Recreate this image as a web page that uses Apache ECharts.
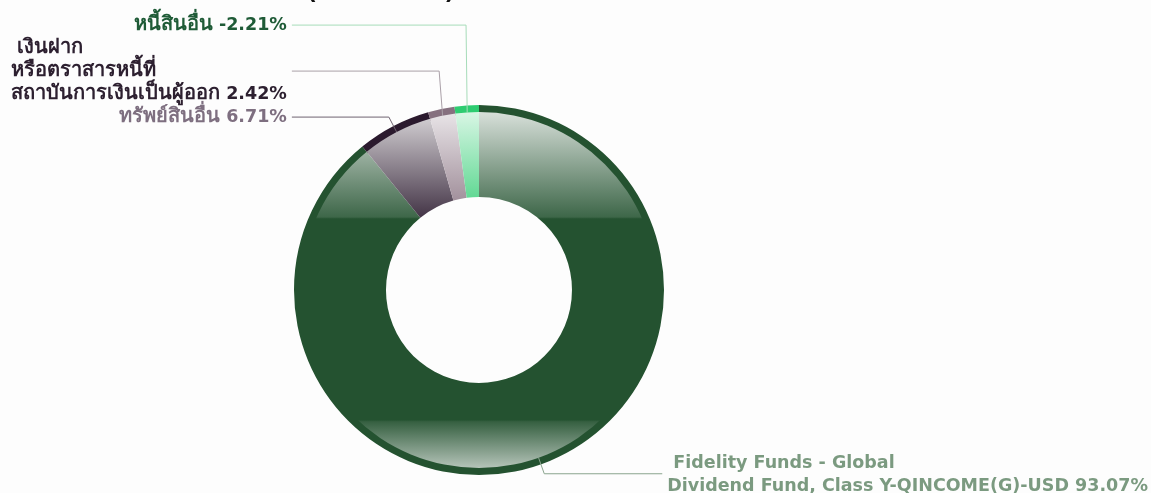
<!DOCTYPE html>
<html lang="th">
<head>
<meta charset="UTF-8" />
<title>สัดส่วนการลงทุน</title>
<script src="https://cdn.jsdelivr.net/npm/echarts@6/dist/echarts.min.js"></script>
<style type="text/css">
html, body { margin:0; padding:0; background:#fdfdfd; }
#main { width:1151px; height:493px; }
</style>
</head>
<body>
<div id="main"></div>
<script type="text/javascript">
// ข้อมูล
var names = [
	'Fidelity Funds - Global\nDividend Fund, Class Y-QINCOME(G)-USD',
	'ทรัพย์สินอื่น',
	'เงินฝาก\nหรือตราสารหนี้ที่\nสถาบันการเงินเป็นผู้ออก',
	'หนี้สินอื่น'
];
var values = [93.07, 6.71, 2.42, -2.21];
var colors = ['#245230', '#2b1a2e', '#86707f', '#2ecc71'];
var labelColors = ['#7b9a80', '#7e6f80', '#2d2030', '#1f5b37'];
var lineColors = ['#8aa48e', '#6f6370', '#aaa0a8', '#a6dcb9'];

var cx = 479, cy = 290, rIn = 93, rMid = 178, rOut = 185;
var len1 = 17, len2Left = 97, len2Right = 118, gap = 5;

function mix(hex, t){
	var n = parseInt(hex.slice(1), 16);
	var r = (n >> 16) & 255, g = (n >> 8) & 255, b = n & 255;
	r = Math.round(r + (255 - r) * t);
	g = Math.round(g + (255 - g) * t);
	b = Math.round(b + (255 - b) * t);
	return 'rgb(' + r + ',' + g + ',' + b + ')';
}
function glass(c){
	return {
		type: 'linear', global: true,
		x: 0, y: cy - rMid, x2: 0, y2: cy + rMid,
		colorStops: [
			{offset: 0, color: mix(c, 0.82)},
			{offset: 0.295, color: mix(c, 0.12)},
			{offset: 0.3, color: c},
			{offset: 0.865, color: c},
			{offset: 0.87, color: mix(c, 0.08)},
			{offset: 1, color: mix(c, 0.66)}
		]
	};
}

// มุมกึ่งกลางของแต่ละชิ้น (เริ่มที่ 90 องศา ตามเข็มนาฬิกา)
var total = 0;
for(var i=0;i<values.length;i++) total += Math.abs(values[i]);
var midAngle = [], cum = 0;
for(var i=0;i<values.length;i++){
	var v = Math.abs(values[i]);
	midAngle.push((90 - (cum + v / 2) / total * 360) * Math.PI / 180);
	cum += v;
}
function pt(a, r){ return [cx + r * Math.cos(a), cy - r * Math.sin(a)]; }
var leftEnd = 1e9;
for(var i=0;i<values.length;i++){
	var q = pt(midAngle[i], rMid + len1);
	if(q[0] < cx) leftEnd = Math.min(leftEnd, q[0] - len2Left);
}

var ringData = [], mainData = [];
for(var i=0;i<values.length;i++){
	ringData.push({name: names[i], value: Math.abs(values[i]), itemStyle: {color: colors[i]}});
	mainData.push({
		name: names[i],
		value: Math.abs(values[i]),
		raw: values[i],
		itemStyle: {color: glass(colors[i])},
		label: {color: labelColors[i]},
		labelLine: {lineStyle: {color: lineColors[i]}}
	});
}

// จัดป้ายฝั่งซ้ายให้เรียงซ้อนขึ้นไปด้านบน
var stackTop = null;
function layoutLabel(p){
	var i = p.dataIndex;
	var a = midAngle[i];
	var p0 = pt(a, rMid), p1 = pt(a, rMid + len1);
	var h = p.labelRect.height;
	if(p1[0] >= cx){
		var e = p1[0] + len2Right;
		return {x: e + gap, y: p1[1] + 1, align: 'left', verticalAlign: 'middle',
			labelLinePoints: [p0, p1, [e, p1[1]]]};
	}
	var y;
	if(stackTop === null || i == 1){
		y = p1[1];
	}else{
		y = Math.min(p1[1], stackTop - h / 2);
	}
	stackTop = y - h / 2;
	return {x: leftEnd - gap, y: y, align: 'right', verticalAlign: 'middle',
		labelLinePoints: [p0, [p1[0], y], [leftEnd, y]]};
}

function rich(s){
	// แยกอักษรไทยกับอักษรอื่นเพื่อใช้ขนาดต่างกัน
	return s.replace(/([\u0E00-\u0E7F]+)|([^\u0E00-\u0E7F]+)/g, function(m, th, en){
		return th ? '{th|' + th + '}' : '{en|' + en + '}';
	});
}

var myChart = echarts.init(document.getElementById('main'));
myChart.setOption({
	backgroundColor: '#fdfdfd',
	animation: false,
	title: {
		text: '(% ของ NAV)',
		left: 302,
		top: -23,
		textStyle: {fontFamily: 'DejaVu Sans', fontSize: 22, fontWeight: 'bold', color: '#111'}
	},
	series: [
		{
			type: 'pie',
			silent: true,
			center: [cx, cy],
			radius: [rMid - 2, rOut],
			startAngle: 90,
			label: {show: false},
			labelLine: {show: false},
			data: ringData
		},
		{
			type: 'pie',
			silent: true,
			center: [cx, cy],
			radius: [rIn, rMid],
			startAngle: 90,
			z: 3,
			label: {
				show: true,
				overflow: 'none',
				fontFamily: 'DejaVu Sans',
				fontSize: 17.5,
				fontWeight: 'bold',
				lineHeight: 23,
				formatter: function(p){
					var lines = p.name.split('\n');
					var last = lines.length - 1;
					lines[last] = lines[last] + ' ' + p.data.raw.toFixed(2) + '%';
					if(lines.length > 1) lines[0] = ' ' + lines[0];
					var out = [];
					for(var k=0;k<lines.length;k++) out.push(rich(lines[k]));
					return out.join('\n');
				},
				rich: {
					en: {fontFamily: 'DejaVu Sans', fontSize: 17.5, fontWeight: 'bold', lineHeight: 23, align: 'left'},
					th: {fontFamily: 'DejaVu Sans', fontSize: 20, fontWeight: 'bold', lineHeight: 23, align: 'left'}
				}
			},
			labelLine: {show: true, length: len1, length2: len2Left, lineStyle: {width: 1}},
			labelLayout: layoutLabel,
			data: mainData
		}
	]
});
</script>
</body>
</html>
